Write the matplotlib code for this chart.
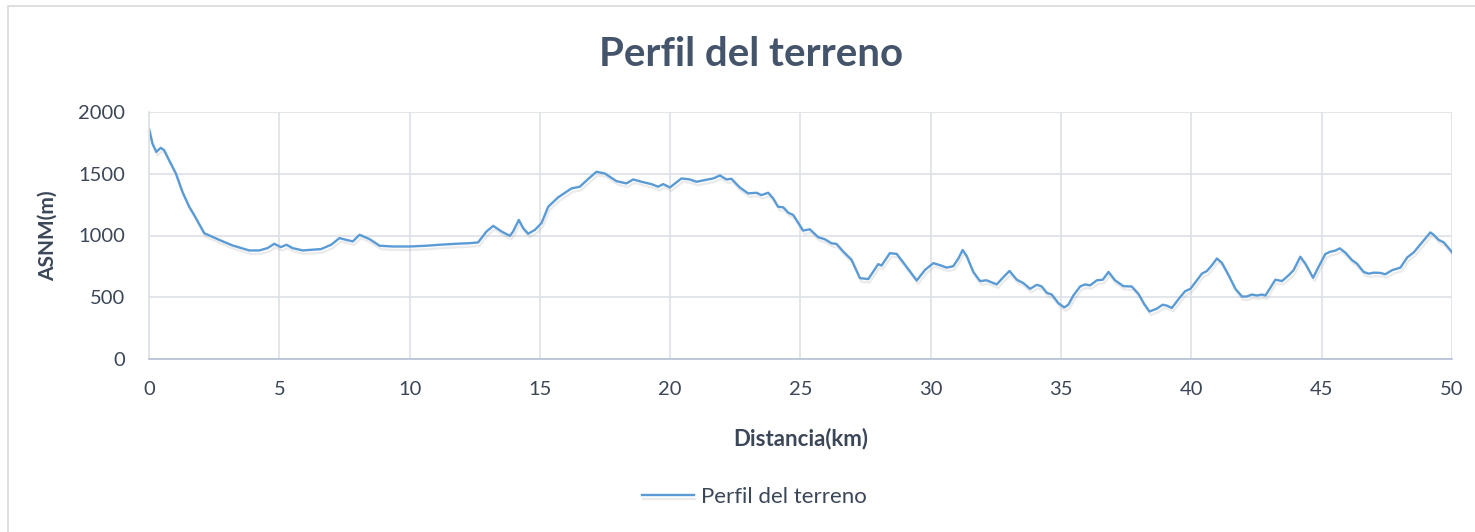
import matplotlib
matplotlib.use("Agg")
import matplotlib.pyplot as plt
import matplotlib.patches as patches
import matplotlib.patheffects as pe

# distance along the profile (km) and height above sea level (m)
dist_km = [0.0, 0.13, 0.28, 0.45, 0.58, 0.77, 1.03, 1.28, 1.54, 1.73, 2.12, 2.69, 3.21,
           3.85, 4.23, 4.55, 4.81, 5.06, 5.28, 5.51, 5.9, 6.6, 6.99, 7.31, 7.56, 7.82,
           8.08, 8.46, 8.85, 9.36, 10.0, 10.64, 11.15, 11.79, 12.31, 12.63, 12.95, 13.21,
           13.53, 13.85, 13.97, 14.19, 14.36, 14.55, 14.81, 15.06,
           15.32, 15.70, 16.21, 16.53, 16.85, 17.17, 17.49, 17.94, 18.32, 18.58, 18.90,
           19.28, 19.54, 19.73, 19.99, 20.43, 20.75, 21.01, 21.33, 21.65, 21.91, 22.16,
           22.35, 22.67, 22.99, 23.31, 23.50, 23.76, 23.95, 24.14, 24.34, 24.53, 24.72,
           24.91, 25.10, 25.36, 25.68, 25.93, 26.19, 26.38, 26.64, 26.96, 27.28, 27.60,
           27.98, 28.11, 28.43, 28.69, 29.01, 29.46, 29.78, 30.10,
           30.35, 30.61, 30.86, 31.06, 31.22, 31.38, 31.63, 31.89, 32.14, 32.34, 32.53,
           32.79, 33.02, 33.30, 33.55, 33.81, 34.07, 34.26, 34.45, 34.64, 34.90, 35.12,
           35.28, 35.47, 35.73, 35.92, 36.11, 36.37, 36.60, 36.82, 37.07, 37.39, 37.71,
           37.97, 38.19, 38.39, 38.67, 38.90, 39.06, 39.25, 39.51, 39.76, 39.96, 40.21,
           40.40, 40.60, 40.79, 40.98, 41.17, 41.43, 41.69, 41.94, 42.13, 42.32, 42.52,
           42.71, 42.84, 43.03, 43.22, 43.48, 43.73, 43.92, 44.18, 44.37, 44.67, 44.88,
           45.14, 45.33, 45.52, 45.69, 45.91, 46.16, 46.35, 46.61, 46.80, 47.00, 47.25,
           47.44, 47.70, 48.02, 48.28, 48.53, 48.79, 48.98, 49.17, 49.30, 49.49, 49.68,
           49.88, 50.0]

elev_m = [1866, 1745, 1677, 1710, 1691, 1610, 1503, 1355, 1234, 1167, 1019, 965, 919,
          879, 879, 898, 933, 906, 925, 898, 879, 890, 925, 979, 965, 952,
          1006, 971, 917, 911, 911, 917, 925, 933, 938, 944, 1032, 1078,
          1032, 997, 1032, 1126, 1059, 1014, 1046, 1100,
          1233, 1309, 1381, 1395, 1457, 1516, 1502, 1440, 1422, 1454, 1435,
          1416, 1395, 1416, 1389, 1462, 1454, 1435, 1449, 1462, 1486, 1454,
          1459, 1389, 1341, 1346, 1327, 1346, 1301, 1233, 1228, 1185, 1166,
          1104, 1040, 1050, 986, 970, 937, 932, 870, 803, 655, 647,
          768, 757, 857, 851, 763, 636, 722, 776,
          760, 740, 751, 814, 883, 833, 705, 631, 637, 620, 604,
          664, 713, 642, 615, 568, 601, 587, 536, 522, 451, 418,
          440, 514, 587, 604, 596, 637, 642, 705, 637, 590, 587,
          527, 445, 385, 407, 440, 432, 413, 486, 549, 568, 637,
          691, 713, 760, 814, 779, 678, 568, 506, 506, 522, 514,
          522, 514, 577, 642, 631, 678, 719, 828, 773, 658, 746,
          850, 869, 877, 896, 861, 801, 773, 705, 691, 699, 697,
          686, 719, 740, 822, 863, 929, 978, 1025, 1005, 964, 945,
          896, 865]

x_ticks = [0, 5, 10, 15, 20, 25, 30, 35, 40, 45, 50]
y_ticks = [0, 500, 1000, 1500, 2000]

plt.rcParams['font.family'] = ['Lato', 'DejaVu Sans']
text_col = '#3B4657'
title_col = '#44546A'
line_col = '#5B9BD5'
grid_col = '#DDE1E8'

fig = plt.figure(figsize=(14.75, 5.32), dpi=100)
ax = fig.add_axes([149/1475, 1 - 359/532, (1452 - 149)/1475, (359 - 112)/532])

ax.plot(dist_km, elev_m, color=line_col, lw=1.7, label='Perfil del terreno',
        path_effects=[pe.SimpleLineShadow(offset=(1, -2.5), shadow_color='#888888', alpha=0.16),
                      pe.Normal()])

ax.set_xlim(0, 50)
ax.set_ylim(0, 2000)
ax.set_xticks(x_ticks)
ax.set_yticks(y_ticks)
ax.grid(True, color=grid_col, lw=1.2)
ax.set_axisbelow(True)
ax.tick_params(length=0, labelsize=14.5, colors=text_col)
ax.tick_params(axis='x', pad=16)
ax.tick_params(axis='y', pad=17)

ax.spines['top'].set_visible(False)
ax.spines['right'].set_visible(False)
ax.spines['left'].set_color(grid_col)
ax.spines['left'].set_linewidth(1.2)
ax.spines['bottom'].set_color('#B4C0D4')
ax.spines['bottom'].set_linewidth(1.2)

ax.set_xlabel('Distancia(km)', fontsize=16, fontweight='bold', color=text_col)
ax.xaxis.set_label_coords(0.5, (359 - 428) / (359 - 112), transform=ax.transAxes)
ax.set_ylabel('ASNM(m)', fontsize=15, fontweight='bold', color=text_col)
ax.yaxis.set_label_coords((58 - 149) / (1452 - 149), 0.5)

fig.text(751/1475, 1 - 55/532, 'Perfil del terreno', fontsize=29, fontweight='bold',
         color=title_col, ha='center', va='center')

fig.legend(loc='center', bbox_to_anchor=(754/1475, 1 - 497/532), frameon=False,
           fontsize=16, labelcolor=text_col, handlelength=2.35, handletextpad=0.3)

# light frame of the chart area, cut off on the right and at the bottom
fig.patches.append(patches.Rectangle((8/1475, -0.1), 1.2, 1.1 - 6/532, transform=fig.transFigure,
                                     fill=False, edgecolor='#D9D9D9', lw=1.2))

fig.savefig('out.png', dpi=100)
